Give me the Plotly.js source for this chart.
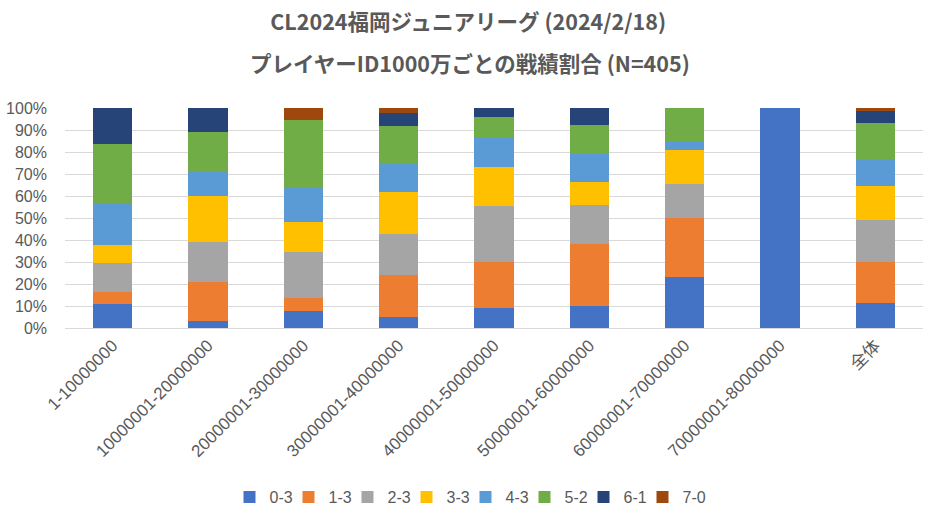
<!DOCTYPE html>
<html>
<head>
<meta charset="utf-8">
<script src="https://cdn.plot.ly/plotly-3.0.1.min.js"></script>
<style>
   html, body { margin: 0; padding: 0; background: #fff; }
   #plot { width: 942px; height: 521px; }
</style>
</head>
<body>
<div id="plot"></div>
<script>
// categories (player ID ranges)
var categories = ['1-10000000', '10000001-20000000', '20000001-30000000', '30000001-40000000',
   '40000001-50000000', '50000001-60000000', '60000001-70000000', '70000001-80000000', '全体'];

// share of each record per range, in percent
var r0_3 = [10.8, 3.3, 7.7, 5.0, 9.3, 9.9, 23.1, 100, 11.4];
var r1_3 = [5.4, 17.8, 5.8, 19.3, 20.6, 28.4, 26.9, 0, 18.4];
var r2_3 = [13.5, 17.8, 21.2, 18.6, 25.4, 17.6, 15.4, 0, 19.1];
var r3_3 = [8.1, 21.1, 13.5, 19.1, 18.1, 10.5, 15.4, 0, 15.8];
var r4_3 = [18.9, 11.1, 15.4, 12.6, 13.1, 12.9, 3.8, 0, 12.0];
var r5_2 = [27.0, 17.8, 30.8, 17.0, 9.5, 12.9, 15.4, 0, 16.5];
var r6_1 = [16.2, 11.1, 0, 6.1, 4.0, 7.8, 0, 0, 5.6];
var r7_0 = [0, 0, 5.8, 2.3, 0, 0, 0, 0, 1.2];

var y_ticks = [0, 10, 20, 30, 40, 50, 60, 70, 80, 90, 100];
var y_ticktext = y_ticks.map(function (v) { return v + '%'; });

var title_line1 = 'CL2024福岡ジュニアリーグ (2024/2/18)';
var title_line2 = 'プレイヤーID1000万ごとの戦績割合 (N=405)';

var series = [
   {name: '0-3', y: r0_3, color: '#4472C4'},
   {name: '1-3', y: r1_3, color: '#ED7D31'},
   {name: '2-3', y: r2_3, color: '#A5A5A5'},
   {name: '3-3', y: r3_3, color: '#FFC000'},
   {name: '4-3', y: r4_3, color: '#5B9BD5'},
   {name: '5-2', y: r5_2, color: '#70AD47'},
   {name: '6-1', y: r6_1, color: '#264478'},
   {name: '7-0', y: r7_0, color: '#9E480E'}
];

var traces = series.map(function (s) {
   return {
      type: 'bar',
      name: s.name,
      x: categories,
      y: s.y,
      marker: {color: s.color, line: {width: 0}},
      hoverinfo: 'x+y+name'
   };
});
// blank, see-through legend entry so the last legend text is not clipped
traces.push({
   type: 'bar',
   name: ' ',
   x: [categories[0]],
   y: [0],
   marker: {color: 'rgba(0,0,0,0)', line: {width: 0}},
   showlegend: true,
   hoverinfo: 'skip'
});

var label_family = 'Liberation Sans, Noto Sans CJK JP, sans-serif';
var title_font = {family: 'Noto Sans CJK JP, sans-serif', size: 21.5, color: '#595959', weight: 'bold'};

var layout = {
   width: 942,
   height: 521,
   barmode: 'stack',
   bargap: 0.59,
   paper_bgcolor: '#ffffff',
   plot_bgcolor: '#ffffff',
   margin: {l: 65, r: 19, t: 108, b: 193},
   title: {
      text: '<b>' + title_line1 + '</b>',
      font: title_font,
      x: 0.497,
      xref: 'container',
      xanchor: 'center',
      y: 1 - 22 / 521,
      yref: 'container',
      yanchor: 'middle'
   },
   annotations: [{
      text: '<b>' + title_line2 + '</b>',
      font: title_font,
      showarrow: false,
      x: (470 - 65) / 858,
      xref: 'paper',
      xanchor: 'center',
      y: 1,
      yref: 'paper',
      yanchor: 'middle'
   }],
   xaxis: {
      type: 'category',
      tickangle: -45,
      tickfont: {family: label_family, size: 17, color: '#595959'},
      showgrid: false,
      showline: true,
      linecolor: '#d9d9d9',
      linewidth: 1,
      ticks: ''
   },
   yaxis: {
      range: [0, 100],
      tickmode: 'array',
      tickvals: y_ticks,
      ticktext: y_ticktext,
      tickfont: {family: label_family, size: 16, color: '#595959'},
      ticklabelstandoff: 17,
      showgrid: true,
      gridcolor: '#d9d9d9',
      gridwidth: 1,
      zeroline: false,
      ticks: ''
   },
   legend: {
      orientation: 'h',
      x: 0.5 + 24 / 942,
      xref: 'container',
      xanchor: 'center',
      y: 24 / 521,
      yref: 'container',
      yanchor: 'middle',
      itemwidth: 30,
      entrywidth: 14,
      traceorder: 'normal',
      font: {family: label_family, size: 16, color: '#595959'}
   },
   showlegend: true
};

// the second title line sits 63px from the top of the picture
var plot_h = layout.height - layout.margin.t - layout.margin.b;
layout.annotations[0].y = 1 + (layout.margin.t - 63) / plot_h;

Plotly.newPlot('plot', traces, layout, {staticPlot: true, displayModeBar: false});
</script>
</body>
</html>
